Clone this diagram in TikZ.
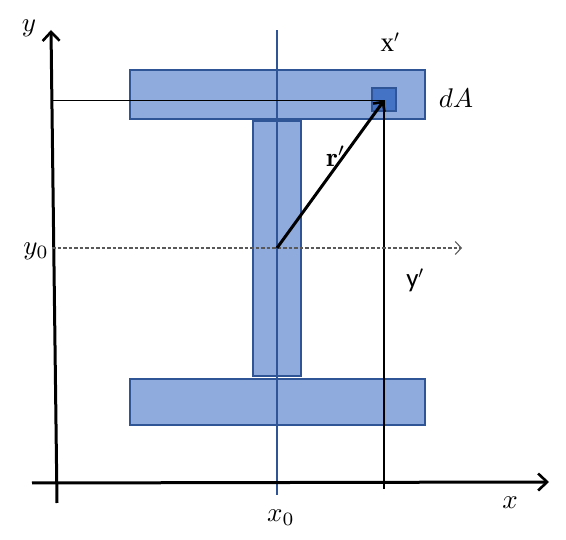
\documentclass[tikz,border=0pt]{standalone}
\usepackage{graphicx}
\usepackage{fontspec}
\newfontfamily\sansf{Carlito}
\newfontfamily\serf{Liberation Serif}
\usetikzlibrary{arrows.meta}
\definecolor{flange}{HTML}{8FAADC}
\definecolor{edge}{HTML}{2F5597}
\definecolor{elem}{HTML}{4472C4}
\newcommand{\mylabmath}[1]{\scalebox{2.7}{$#1$}}
\begin{document}
\begin{tikzpicture}[x=1pt,y=-1pt,
  part/.style={fill=flange,draw=edge,line width=2pt},
  axis/.style={line width=3pt,-{Straight Barb[length=9pt,width=17pt,line width=2.6pt]}},
  hairline/.style={line width=1.3pt},
  lab/.style={font=\fontsize{27}{32}\selectfont,inner sep=0pt},
  mlab/.style={font=\normalsize,inner sep=0pt}]
\useasboundingbox (0,0) rectangle (566,540);
% parts
\path[part] (130,70) rectangle (425,119);
\path[part] (253,121) rectangle (301,376);
\path[part] (130,379) rectangle (425,425);
% centroid vertical line
\coordinate (vt) at (277,30);
\coordinate (vb) at (277,495);
\draw[edge,line width=1.8pt] (vb) -- (vt);
% dA element
\path[fill=elem,draw=edge,line width=2pt] (372,88) rectangle (396,111);
\coordinate (P) at (384,100.5);
\coordinate (Hl) at (52,100.5);
\coordinate (Vb) at (384,489);
\draw[hairline] (Hl) -- (P) -- (Vb);
% axes
\coordinate (ybot) at (57,503);
\coordinate (ytop) at (51,30);
\coordinate (xl) at (32,483);
\coordinate (xr) at (549,482);
\draw[axis] (ybot) -- (ytop);
\draw[axis] (xl) -- (xr);
% dashed y0 line
\coordinate (dl) at (52,248);
\coordinate (dr) at (462,248);
\draw[black!65,line width=1.1pt,dash pattern=on 3.5pt off 2pt,-{Straight Barb[length=6pt,width=13pt,line width=1.1pt]}] (dl) -- (dr);
% r' vector
\coordinate (O) at (277,248);
\draw[line width=3pt,-{Straight Barb[length=7pt,width=14pt,line width=2.6pt]}] (O) -- (P);
% labels
\node[mlab] (ly) at (29,28) {\mylabmath{y}};
\node[lab] (lxp) at (390,42) {\serf x$'$};
\node[mlab] (ldA) at (456,98) {\mylabmath{dA}};
\node[mlab] (lr) at (336,156) {\mylabmath{\mathbf{r}'}};
\node[mlab] (ly0) at (36,251) {\mylabmath{y_0}};
\node[lab] (lyp) at (415,280) {\sansf y$'$};
\node[mlab] (lx0) at (281,518) {\mylabmath{x_0}};
\node[mlab] (lx) at (510,503) {\mylabmath{x}};
\end{tikzpicture}
\end{document}
